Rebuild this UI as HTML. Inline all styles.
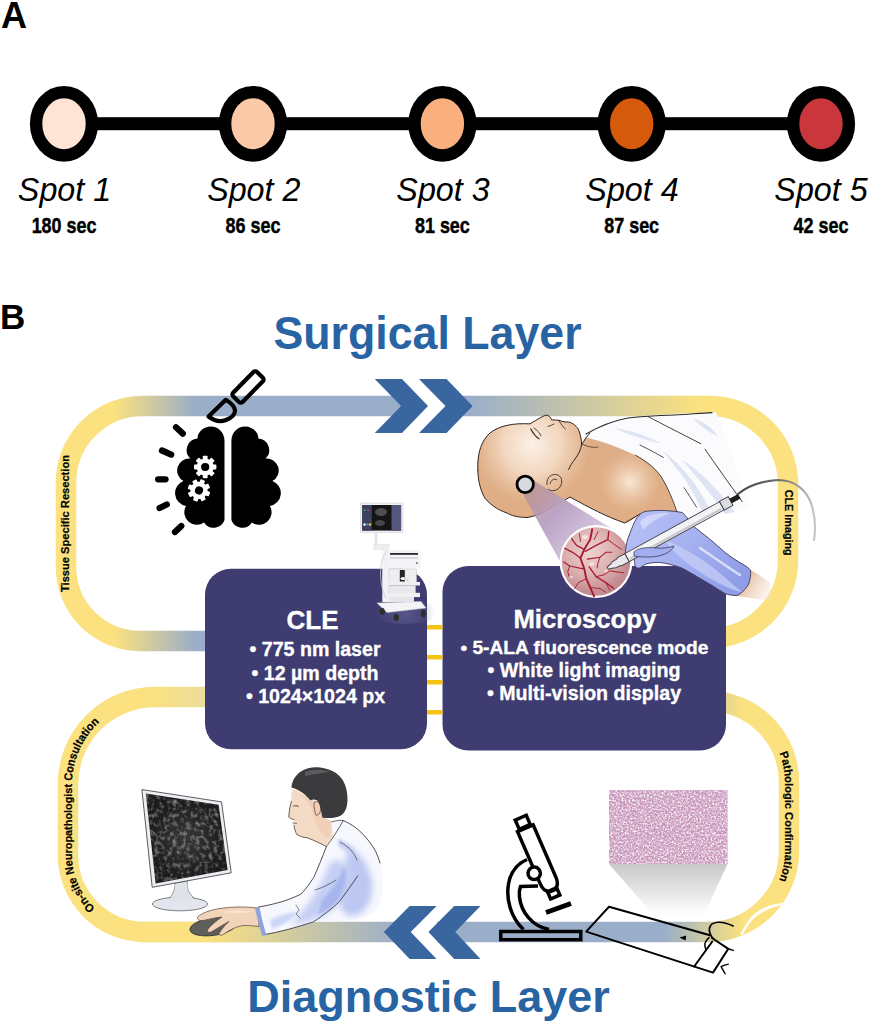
<!DOCTYPE html>
<html><head><meta charset="utf-8">
<style>
html,body{margin:0;padding:0;background:#fff;width:869px;height:1024px;overflow:hidden}
svg{display:block;font-family:"Liberation Sans",sans-serif}
</style></head><body>
<svg width="869" height="1024" viewBox="0 0 869 1024">
<defs>
  <linearGradient id="gTop" gradientUnits="userSpaceOnUse" x1="0" y1="0" x2="869" y2="0">
    <stop offset="0.132" stop-color="#fbe17f"/>
    <stop offset="0.225" stop-color="#9aaeca"/>
    <stop offset="0.54" stop-color="#9aaeca"/>
    <stop offset="0.805" stop-color="#fbe17f"/>
  </linearGradient>
  <linearGradient id="gBot" gradientUnits="userSpaceOnUse" x1="0" y1="0" x2="869" y2="0">
    <stop offset="0.235" stop-color="#fbe17f"/>
    <stop offset="0.465" stop-color="#9aaeca"/>
    <stop offset="0.763" stop-color="#9aaeca"/>
    <stop offset="0.855" stop-color="#fbe17f"/>
  </linearGradient>
  <linearGradient id="gLL" gradientUnits="userSpaceOnUse" x1="0" y1="0" x2="869" y2="0">
    <stop offset="0.17" stop-color="#fbe17f"/>
    <stop offset="0.236" stop-color="#ecdd9c"/>
  </linearGradient>
  <linearGradient id="gLR" gradientUnits="userSpaceOnUse" x1="700" y1="0" x2="760" y2="0">
    <stop offset="0.43" stop-color="#ecdd9c"/>
    <stop offset="1" stop-color="#fbe17f"/>
  </linearGradient>
</defs>

<!-- ============ PANEL A ============ -->
<text x="1" y="28" font-size="36" font-weight="bold">A</text>
<rect x="64" y="117.2" width="757" height="13" fill="#000"/>
<g stroke="#000" stroke-width="12.4">
  <ellipse cx="64" cy="123.8" rx="27.9" ry="31.7" fill="#fde4d4"/>
  <ellipse cx="253" cy="123.8" rx="27.9" ry="31.7" fill="#fbc9a8"/>
  <ellipse cx="442.4" cy="123.8" rx="27.9" ry="31.7" fill="#f9b07e"/>
  <ellipse cx="631.7" cy="123.8" rx="27.9" ry="31.7" fill="#d65a0c"/>
  <ellipse cx="821" cy="123.8" rx="27.9" ry="31.7" fill="#c9373d"/>
</g>
<g font-size="33.8" font-style="italic" text-anchor="middle">
  <text transform="translate(64.5,201.4) scale(0.955,1)">Spot 1</text>
  <text transform="translate(253.8,201.4) scale(0.955,1)">Spot 2</text>
  <text transform="translate(443,201.4) scale(0.955,1)">Spot 3</text>
  <text transform="translate(632,201.4) scale(0.955,1)">Spot 4</text>
  <text transform="translate(821,201.4) scale(0.955,1)">Spot 5</text>
</g>
<g font-size="21.6" font-weight="bold" text-anchor="middle" stroke="#000" stroke-width="0.45">
  <g transform="translate(64,232.7) scale(0.83,1)"><text x="0" y="0">180 sec</text></g>
  <g transform="translate(253,232.7) scale(0.83,1)"><text x="0" y="0">86 sec</text></g>
  <g transform="translate(442.4,232.7) scale(0.83,1)"><text x="0" y="0">81 sec</text></g>
  <g transform="translate(631.7,232.7) scale(0.83,1)"><text x="0" y="0">87 sec</text></g>
  <g transform="translate(821,232.7) scale(0.83,1)"><text x="0" y="0">42 sec</text></g>
</g>

<!-- ============ PANEL B ============ -->
<text x="0" y="328.7" font-size="35" font-weight="bold">B</text>
<text transform="translate(427.5,348.8) scale(0.972,1)" font-size="46" font-weight="bold" fill="#2864a4" text-anchor="middle">Surgical Layer</text>
<text x="428.5" y="1012.2" font-size="45" font-weight="bold" fill="#2864a4" text-anchor="middle">Diagnostic Layer</text>

<!-- bands -->
<g fill="none" stroke-width="20.5">
  <path d="M205,641 H140 A74,74 0 0 1 66,567 V482.5 A76.5,76.5 0 0 1 142.5,406 H710 A78,78 0 0 1 788,484 V560 A78,78 0 0 1 710,638" stroke="url(#gTop)"/>
  <path d="M205,697 H155 A87,87 0 0 0 68,784 V855 A77,77 0 0 0 145,932 H300" stroke="url(#gLL)"/>
  <path d="M140,932 H708 A81,81 0 0 0 789,851 V782 A81,81 0 0 0 708,701" stroke="url(#gBot)"/>
  <path d="M700,701 H726" stroke="url(#gLR)"/>
</g>
<!-- chevrons -->
<rect x="401" y="394" width="45" height="24" fill="#fff"/>
<rect x="410" y="920" width="27" height="24" fill="#fff"/>
<g fill="#3a669f">
  <polygon points="374.8,379 402,379 428,406 402,433 374.8,433 401,406"/>
  <polygon points="419,379 446.5,379 472.6,406 446.5,433 419,433 445.5,406"/>
  <polygon points="383.8,932 409.7,906 436.6,906 410.7,932 436.6,959 409.7,959"/>
  <polygon points="428.4,932 454.2,906 480.5,906 455.3,932 480.5,959 454.2,959"/>
</g>

<!-- brain icon -->
<g id="brain">
  <g id="hemi" fill="#000">
    <path d="M224.5,520 V441 C224.5,432 218,426.5 211,426.5 C204,426.5 197.5,431.5 197.5,438.5 A11.5,11.5 0 0 0 190.5,458.5 A12,12 0 0 0 183.5,481 A13,13 0 0 0 186,506 A12.5,12.5 0 0 0 204,522.5 A11.5,11.5 0 0 0 224.5,520 Z"/>
    <rect x="193" y="445" width="28" height="75"/>
  </g>
  <use href="#hemi" transform="translate(455.9,0) scale(-1,1)"/>
  <g fill="#fff">
    <g transform="translate(205.2,467)">
      <circle r="8.6"/>
      <g id="teeth"><rect x="-2.4" y="-11.2" width="4.8" height="22.4" rx="0.8"/><rect x="-2.4" y="-11.2" width="4.8" height="22.4" rx="0.8" transform="rotate(45)"/><rect x="-2.4" y="-11.2" width="4.8" height="22.4" rx="0.8" transform="rotate(90)"/><rect x="-2.4" y="-11.2" width="4.8" height="22.4" rx="0.8" transform="rotate(135)"/></g>
      <circle r="4.1" fill="#000"/>
    </g>
    <g transform="translate(199,490.4) rotate(20)">
      <circle r="8.6"/>
      <use href="#teeth"/>
      <circle r="4.1" fill="#000"/>
    </g>
  </g>
  <g stroke="#000" stroke-width="6.3" stroke-linecap="round">
    <line x1="176" y1="427.3" x2="182.8" y2="433.6"/>
    <line x1="162" y1="450.5" x2="171.2" y2="454.6"/>
    <line x1="158.2" y1="479.3" x2="165.5" y2="479.3"/>
    <line x1="159.6" y1="508" x2="166.8" y2="504.5"/>
    <line x1="175" y1="532" x2="181.3" y2="526"/>
  </g>
</g>
<!-- scalpel -->
<g fill="none" stroke="#000" stroke-width="4.2" stroke-linejoin="round">
  <g transform="translate(248,387) rotate(-45.5)"><rect x="-17" y="-6.6" width="34" height="13.2" rx="2.5"/></g>
  <path d="M225.8,399.8 L208.5,416.5 C215,421.5 221,422 226,420 C231,418 235,414.5 235,410.5 C235,406 231,403 225.8,399.8 Z"/>
</g>

<!-- boxes -->
<rect x="205" y="568.7" width="222" height="180.5" rx="26" fill="#3e3c70"/>
<rect x="442.5" y="566" width="283.5" height="184.5" rx="26" fill="#3e3c70"/>
<g fill="#f5c316">
  <rect x="427" y="625" width="15.5" height="4.5"/>
  <rect x="427" y="655" width="15.5" height="4.5"/>
  <rect x="427" y="680" width="15.5" height="4.5"/>
  <rect x="427" y="710" width="15.5" height="4.5"/>
</g>
<g fill="#fff" font-weight="bold" text-anchor="middle" stroke="#fff" stroke-width="0.35">
  <text x="312.5" y="629" font-size="26">CLE</text>
  <text x="315" y="656.3" font-size="19.6">• 775 nm laser</text>
  <text x="315" y="679.8" font-size="19.6">• 12 µm depth</text>
  <text x="315.5" y="703" font-size="19.6">• 1024×1024 px</text>
  <text x="584.8" y="628.4" font-size="25.7">Microscopy</text>
  <text x="584.4" y="654.1" font-size="19.2">• 5-ALA fluorescence mode</text>
  <text x="584" y="677.4" font-size="19.6">• White light imaging</text>
  <text x="584" y="700.1" font-size="19.6">• Multi-vision display</text>
</g>

<!-- ===== CLE cart ===== -->
<g id="cart">
  <defs>
    <radialGradient id="cartShadow" gradientUnits="userSpaceOnUse" cx="405" cy="612" r="30">
      <stop offset="0" stop-color="#6a6898" stop-opacity="0.6"/>
      <stop offset="1" stop-color="#6a6898" stop-opacity="0"/>
    </radialGradient>
  </defs>
  <ellipse cx="405" cy="612" rx="34" ry="12" fill="url(#cartShadow)"/>
  <!-- monitor -->
  <rect x="360.5" y="503" width="42.4" height="29.4" fill="#f2f2f4" stroke="#d0d0d6" stroke-width="0.6"/>
  <rect x="362.3" y="505" width="38.8" height="25.6" fill="#151515"/>
  <rect x="362.3" y="505" width="9.5" height="25.6" fill="#3d3f5e"/>
  <rect x="391.5" y="505" width="9.6" height="25.6" fill="#55577e"/>
  <circle cx="364.5" cy="524.5" r="1.2" fill="#fff"/><circle cx="367.3" cy="524.5" r="1.2" fill="#3c8dde"/><circle cx="370" cy="524.5" r="1.2" fill="#f0d020"/>
  <rect x="363.5" y="509.5" width="2.2" height="1.2" fill="#3cc080"/><rect x="367" y="509.5" width="2.2" height="1.2" fill="#d04080"/>
  <ellipse cx="381" cy="512" rx="6" ry="4" fill="#777" opacity="0.6"/>
  <ellipse cx="380" cy="523" rx="5" ry="3" fill="#777" opacity="0.5"/>
  <!-- arm -->
  <rect x="374.5" y="532" width="3" height="14" fill="#e6e6ea"/>
  <rect x="374" y="544.5" width="15" height="5" fill="#eeeef0" stroke="#d4d4da" stroke-width="0.4"/>
  <path d="M389,551 C383,560 381,580 385,600" fill="none" stroke="#bfc0c8" stroke-width="0.8"/>
  <!-- body -->
  <rect x="382.3" y="550" width="7" height="52" fill="#f2f2f4"/>
  <rect x="388.5" y="550" width="32" height="18.5" fill="#f4f4f6"/>
  <rect x="390" y="553" width="28" height="1.8" fill="#2a2a2a"/>
  <rect x="390" y="557.5" width="28" height="1" fill="#bdbdc6"/>
  <rect x="416" y="562.5" width="1.6" height="1.2" fill="#333"/>
  <rect x="389" y="569" width="27.5" height="14" fill="#eeeef1" stroke="#c6c6ce" stroke-width="0.5"/>
  <rect x="399.8" y="570" width="5" height="11.5" fill="#242424"/>
  <ellipse cx="403" cy="578.5" rx="2.6" ry="1.6" fill="#f4f4f4"/>
  <path d="M405,578 C410,580 410,590 404,594" fill="none" stroke="#9aa4b8" stroke-width="0.6"/>
  <rect x="388.5" y="582" width="31.5" height="3.5" fill="#f0f0f3"/>
  <rect x="389" y="585.5" width="26.5" height="8.5" fill="#e9e9ed" stroke="#c8c8d0" stroke-width="0.4"/>
  <rect x="389" y="592.8" width="31" height="4.3" fill="#f0f0f3"/>
  <rect x="389" y="597" width="25" height="5" fill="#e6e6ea"/>
  <path d="M377,603 L421,601.5 L426,608 L387,612.5 Z" fill="#f4f4f6" stroke="#c8c8d0" stroke-width="0.5"/>
  <ellipse cx="382.2" cy="611.5" rx="2.6" ry="3.4" fill="#2e2e2e"/>
  <ellipse cx="396.2" cy="617.5" rx="2.6" ry="3.8" fill="#2e2e2e"/>
  <ellipse cx="423.3" cy="613.5" rx="2.6" ry="3.8" fill="#2e2e2e"/>
  <path d="M387,551 C378,560 379,585 386,598" fill="none" stroke="#c8cad2" stroke-width="0.8"/>
</g>

<!-- ===== doctor ===== -->
<g id="doctor">
  <defs>
    <filter id="noiseScr" x="0" y="0" width="100%" height="100%">
      <feTurbulence type="fractalNoise" baseFrequency="0.22" numOctaves="3" seed="3"/>
      <feColorMatrix type="matrix" values="0 0 0 0 1  0 0 0 0 1  0 0 0 0 1  2.2 0 0 0 -1.0"/>
      <feComposite in2="SourceGraphic" operator="in"/>
    </filter>
    <filter id="noiseHist" x="0" y="0" width="100%" height="100%">
      <feTurbulence type="fractalNoise" baseFrequency="0.55" numOctaves="2" seed="7"/>
      <feColorMatrix type="matrix" values="0 0 0 0 1  0 0 0 0 1  0 0 0 0 1  3.2 0 0 0 -1.35"/>
      <feComposite in2="SourceGraphic" operator="in"/>
    </filter>
    <filter id="noiseHist2" x="0" y="0" width="100%" height="100%">
      <feTurbulence type="fractalNoise" baseFrequency="0.5" numOctaves="2" seed="11"/>
      <feColorMatrix type="matrix" values="0 0 0 0 0.68  0 0 0 0 0.42  0 0 0 0 0.62  0 4 0 0 -1.75"/>
      <feComposite in2="SourceGraphic" operator="in"/>
    </filter>
    <radialGradient id="coatBlue" gradientUnits="userSpaceOnUse" cx="355" cy="870" r="40">
      <stop offset="0" stop-color="#a9b8ee"/>
      <stop offset="0.6" stop-color="#c3ceF3" stop-opacity="0.8"/>
      <stop offset="1" stop-color="#e8ecfb" stop-opacity="0"/>
    </radialGradient>
  </defs>
  <!-- monitor -->
  <path d="M175,883 L187.5,881 C186.5,889 189,895 197,900 L164,902.5 C171,898 175.5,891 175,883 Z" fill="#dfe2e8" stroke="#777" stroke-width="0.7"/>
  <ellipse cx="180" cy="904" rx="27.6" ry="6.8" fill="#e3e6ee" stroke="#6f6f78" stroke-width="0.9"/>
  <path d="M166,902 C172,898 176,892 175.5,884 L187,882 C186.5,890 189,896 196,900.5" fill="#dfe2e8"/>
  <path d="M141.9,789.6 L221.5,801.9 L231.2,872.8 L152.2,887.3 Z" fill="#eceef2" stroke="#4a4a50" stroke-width="0.9"/>
  <path d="M145.8,793.4 L218.6,804.8 L227.6,870 L155.6,883.4 Z" fill="#1c1c1c"/>
  <path d="M145.8,793.4 L218.6,804.8 L227.6,870 L155.6,883.4 Z" fill="#000" filter="url(#noiseScr)" opacity="0.5"/>
  <defs><radialGradient id="scrG" gradientUnits="userSpaceOnUse" cx="186" cy="838" r="38"><stop offset="0" stop-color="#fff" stop-opacity="0.12"/><stop offset="1" stop-color="#fff" stop-opacity="0"/></radialGradient></defs>
  <path d="M145.8,793.4 L218.6,804.8 L227.6,870 L155.6,883.4 Z" fill="url(#scrG)"/>
  <!-- coat body -->
  <defs>
    <filter id="blur3" x="-30%" y="-30%" width="160%" height="160%"><feGaussianBlur stdDeviation="3"/></filter>
    <filter id="blur15" x="-30%" y="-30%" width="160%" height="160%"><feGaussianBlur stdDeviation="1.5"/></filter>
  </defs>
  <path d="M331,822 C336,820.5 340,820 343,820.5 C352,824 360,830 368,840 C374,847 378,855 380,863 C383,875 384,890 380,903 C376,912 368,917 355,919.5 L339,921 C330,921.5 322,921.8 313.6,921.8 C298,927 280,932 264,934.7 C261,925 259,916 258.4,907 C270,905 285,902 300.8,894.2 C306,889 310,883 313.6,877.6 C318,868 322,858 326.5,846.3 C328,838 329,830 331,822 Z" fill="#f7f8fe"/>
  <g filter="url(#blur3)" opacity="0.85">
    <path d="M345,845 C358,850 368,862 372,880 C374,895 370,908 358,915 C350,918 342,915 340,905 C345,890 350,870 345,845 Z" fill="#b3c0f0"/>
    <path d="M330,862 C340,858 350,862 352,875 C350,890 340,905 325,915 C315,920 300,925 290,925 C300,915 318,895 330,862 Z" fill="#bcc8f2"/>
  </g>
  <g filter="url(#blur15)" opacity="0.9">
    <path d="M322,900 C332,890 340,878 344,866 C348,875 345,890 338,900 C332,908 325,912 318,915 Z" fill="#a4b3ec"/>
    <path d="M338,838 C345,842 352,846 356,852 C350,852 343,850 338,846 Z" fill="#c5cff5"/>
    <path d="M270,920 C280,915 290,912 298,912 C292,920 282,926 272,929 Z" fill="#c9d3f6"/>
  </g>
  <g fill="none" stroke="#3c3c44" stroke-width="0.9" stroke-linecap="round">
    <path d="M343,820.5 C352,824 360,830 368,840 C374,847 378,855 380,863"/>
    <path d="M326.5,846.3 C322,858 318,868 313.6,877.6 C310,883 306,889 300.8,894.2 C285,902 270,905 258.4,907 C259,916 261,925 264,934.7 C280,932 298,927 313.6,921.8 C322,916 332,909 339.4,901.6 C346,893 352,884 357.8,875.8"/>
    <path d="M331,822 C336,820.5 340,820 343,820.5" stroke-width="0.8"/>
    <path d="M326.5,846.3 C333,838 338,830 343,821" stroke-width="0.8"/>
    <path d="M340,842 C348,846 354,852 357,860" stroke-width="0.7"/>
    <path d="M315,890 C322,888 330,884 336,880" stroke-width="0.7"/>
    <path d="M296,905 L299,910 L296,914 L300,918" stroke-width="0.6"/>
  </g>
  <!-- hand + mouse -->
  <ellipse cx="213.2" cy="926.6" rx="23.5" ry="8.8" transform="rotate(-8 213.2 926.6)" fill="#5e5e5a" stroke="#2e2e2e" stroke-width="0.8"/>
  <path d="M258,908 C245,906.5 232,906.5 220,908.5 C210,910 202,913 197.5,917 C197,919.5 199,921 203,920.5 C210,919 216,917.5 222,917 C216,921 210,926 207.5,930 C207,932.5 209,933 212,931.5 C218,928 224,924 229,921.5 C225,925 221,930 219,933.5 C219,935.5 221.5,936 224,934 C230,930 237,926 244,925.5 C250,925.5 254,926 259,926.5 Z" fill="#f2d4ba" stroke="#5a4038" stroke-width="0.7"/>
  <path d="M223,912 C232,910 244,910 254,912 C245,913 233,913.5 223,912 Z" fill="#fbe8da" opacity="0.8"/>
  <path d="M255,908 L259.5,907.3 C261.5,917 263.5,926 266.5,935.3 L262,935.8 C259,926 257,917 255,908 Z" fill="#8ea2de"/>
  <!-- face -->
  <path d="M292.3,789 C291,793 291,797 291.4,801.4 C290,806 289,812 288.8,817 C290,818.5 292,819 294,819.6 C293.5,821.5 293.5,823.5 294,825.6 C294.5,829 295.5,832 296.6,834.2 C300,836.5 303,837.5 307,837.7 C311,839 315,841 319,842.9 C322,844 324,845.5 326,846.3 L333,836 L331.1,820.4 C328,819.5 325,818.5 322.5,817.8 C320,812 319.5,806 318.2,803 C316,800 313,800 310.4,801.4 C306,796 300,791 292.3,789 Z" fill="#f4dbc6"/>
  <path d="M300,795 C308,800 312,808 314,818 C316,828 322,836 330,838 L331,822 C325,818 320,812 318,803 C312,798 306,795 300,795 Z" fill="#edc8ad" opacity="0.6"/>
  <g fill="none" stroke="#4a3a35" stroke-width="0.8" stroke-linecap="round">
    <path d="M291.4,801.4 C290,806 289,812 288.8,817 C290,818.5 292,819 294,819.6"/>
    <path d="M294,825.6 C294.5,829 295.5,832 296.6,834.2 C300,836.5 303,837.5 307,837.7 C311,839 315,841 319,842.9 C322,844 324,845.5 326,846.3"/>
    <path d="M293,823 L296.5,823.5" stroke-width="0.7"/>
    <path d="M293.5,806 C295,805.5 297,805.5 298.5,806.5" stroke-width="0.9"/>
  </g>
  <path d="M313.9,803 C316,800 320,802 320.8,807 C321,812 319,815.5 316,815.2 C315,813 314,809 313.9,803 Z" fill="#efcdb4" stroke="#4a3a35" stroke-width="0.7"/>
  <!-- hair -->
  <path d="M291.4,787.6 C292,781 295,776 300,772 C306,768 312,767 318,767.3 C328,768 337,772 342,779 C346,785 347.5,792 347.5,799 C347.5,806 346,812 341,815.5 C336,818 329,818.5 322.5,817.8 C321,812 320.5,806 318.5,802 C316,799 313,799 310.4,800.5 C306,795 300,790 291.4,787.6 Z" fill="#3b3b3d"/>
  <path d="M305,772 C312,769 322,769 330,772 C322,773 313,774 305,776 Z" fill="#6a6a6e" opacity="0.7"/>
</g>

<!-- ===== microscope ===== -->
<g id="microscope" fill="none" stroke="#000" stroke-width="3.5" stroke-linejoin="miter">
  <rect x="500.8" y="931.5" width="80" height="8.2"/>
  <path d="M523.5,929.5 C510,917 506,898 508.5,884 C510.5,872 517,864 527,859.5"/>
  <path d="M549,929.5 C532,926 521,912 519.5,897 C519,893 519.5,889 520.5,886.5 L538,886"/>
  <g transform="translate(538.5,858.5) rotate(-23.5)">
    <path d="M-8.5,-33 H8.5 V24 C8.5,30 6,33 4,34 H-4 C-6,33 -8.5,30 -8.5,24 Z"/>
    <rect x="-6" y="-44.5" width="12" height="10"/>
    <rect x="-5" y="35" width="10" height="7"/>
  </g>
  <circle cx="534.2" cy="873.3" r="6.2" fill="#fff"/>
  <line x1="546" y1="912.5" x2="571" y2="903.5" stroke-width="5"/>
</g>
<g fill="#fff">
  <circle cx="534.2" cy="873.3" r="4"/>
</g>

<!-- ===== histology + slide ===== -->
<defs>
  <linearGradient id="trapG" gradientUnits="userSpaceOnUse" x1="0" y1="864" x2="0" y2="915">
    <stop offset="0" stop-color="#c8c8c8"/>
    <stop offset="1" stop-color="#ffffff"/>
  </linearGradient>
</defs>
<path d="M609,864 L727.5,864 L704.3,914 L652.5,914 Z" fill="url(#trapG)"/>
<rect x="609" y="790" width="118.5" height="74" fill="#c795b9"/>
<rect x="609" y="790" width="118.5" height="74" fill="#000" filter="url(#noiseHist2)" opacity="0.8"/>
<rect x="609" y="790" width="118.5" height="74" fill="#000" filter="url(#noiseHist)" opacity="0.85"/>
<g fill="none" stroke="#000" stroke-width="2" stroke-linejoin="round" stroke-linecap="round">
  <path d="M710,935.2 L609,906.7 L586.2,931.6 L713,972.6 L728.3,948.8 L712,938"/>
  <path d="M728.3,948.8 L733.2,950.4" stroke-width="1.5"/>
  <path d="M694.1,966.6 L712.2,941.6" stroke-width="1.8"/>
  <path d="M733.2,925.9 C728,923.5 723,922 718.7,922.2 C714,922.5 711.5,923.5 710.6,925.5 C709,928 709,930.5 709.8,932.7 C710.5,935.5 712,937.5 713.8,939.2" stroke-width="1.6"/>
  <path d="M709,937.6 C707,939.5 705.5,941 705,943.2 C704.5,945.5 705,947.5 705.8,949.6" stroke-width="1.5"/>
  <path d="M728.3,964.1 C725.5,964.8 723,965.5 721.1,966.6 C722.5,969 724,971.5 725.1,973.8" stroke-width="1.4"/>
</g>
<path d="M679.4,937.5 L686.3,935.5 L685.5,940.6 Z" fill="#000"/>
<g fill="none" stroke="#fff" stroke-width="2.4" stroke-linecap="round">
  <path d="M741.8,933.7 C746,926 750,919.5 754.4,915.3 C762,909 770,906 777.5,905"/>
  <path d="M749.8,921 C757,913 768,907 782,903.8" stroke-width="2"/>
</g>

<!-- ===== patient illustration ===== -->
<g id="patient">
  <!-- sheet -->
  <path d="M583,437 C592,429 603,424 615,421 C635,416 655,414.5 680,413.5 C695,413 705,412.5 716,412 C722,428 730,450 738,472 C742,484 746,496 750,506 L705,520 L677,512 C673,498 668,486 662,478 C655,468 646,461 635.6,455.3 C618,447 600,441 583,437 Z" fill="#fbfbfe"/>
  <g fill="#dde3f2" opacity="0.95">
    <path d="M662,450 C675,460 690,475 700,492 C706,502 710,510 712,516 L704,516 C698,500 688,482 676,468 C671,461 666,455 662,450 Z"/>
    <path d="M682,460 C700,470 718,490 735,512 L725,514 C712,495 698,478 682,460 Z"/>
    <path d="M693,418 C705,422 712,428 718,436 C708,432 700,426 693,418 Z"/>
    <path d="M614,428 C630,430 648,436 662,444 C645,440 630,435 614,428 Z"/>
  </g>
  <g fill="none" stroke="#2f2a2a" stroke-linecap="round">
    <path d="M586,434 C598,427 612,421 628,418 C645,416 660,415.5 675,415 C688,414.5 700,413 712,412.6" stroke-width="1.1"/>
    <path d="M648.3,416.7 C662,424 680,433 700.8,443.7" stroke-width="0.9"/>
    <path d="M705,449.2 C716,465 730,485 742.2,501.7" stroke-width="0.9"/>
    <path d="M640,445 C648,449 656,453 663.5,457.5" stroke-width="0.8"/>
    <path d="M684.2,487.8 C688,494 693,501 696.6,507.2" stroke-width="0.8"/>
  </g>
  <!-- skin body -->
  <defs>
    <radialGradient id="skinG" gradientUnits="userSpaceOnUse" cx="540" cy="445" r="75">
      <stop offset="0" stop-color="#fbeee2"/>
      <stop offset="0.45" stop-color="#f3d6bd"/>
      <stop offset="1" stop-color="#d9a47a"/>
    </radialGradient>
    <radialGradient id="chestG" gradientUnits="userSpaceOnUse" cx="640" cy="490" r="45">
      <stop offset="0" stop-color="#f6dcc4"/>
      <stop offset="1" stop-color="#dcaa80"/>
    </radialGradient>
    <linearGradient id="coneG" gradientUnits="userSpaceOnUse" x1="528" y1="487" x2="590" y2="548">
      <stop offset="0" stop-color="#a98592" stop-opacity="0.6"/>
      <stop offset="0.45" stop-color="#bca4c6"/>
      <stop offset="1" stop-color="#d8cbe2"/>
    </linearGradient>
    <radialGradient id="magG" gradientUnits="userSpaceOnUse" cx="590" cy="552" r="40">
      <stop offset="0" stop-color="#eed3d2"/>
      <stop offset="0.6" stop-color="#dcb0b0"/>
      <stop offset="1" stop-color="#c48c92"/>
    </radialGradient>
    <linearGradient id="gloveG" gradientUnits="userSpaceOnUse" x1="640" y1="515" x2="730" y2="590">
      <stop offset="0" stop-color="#b5bef5"/>
      <stop offset="0.5" stop-color="#a4b0f0"/>
      <stop offset="1" stop-color="#8f9de8"/>
    </linearGradient>
  </defs>
  <path d="M477.8,470.6 C477,452 482,440 490,433 C500,425 515,423 530,423.9 C538,419 543,416 546.1,415.1 C549,415 551,418 551.7,419.9 C554,420 557,420 559,420.3 C562,421.5 564,422 567,421.9 C571,422 576,425 578.3,429.2 C580.5,434 581.5,440 581.6,444.5 L585,437.5 C598,440 616,446 635.6,455.3 C648,462 657,470 662,478 C668,488 673,500 677,512 L640,514 C632,520 628,523 624.7,523 C605,516 585,505 570,497 C563,500 558,504 552.9,506.8 C545,512 535,516.5 527,517.5 C518,517.5 511,515.5 507.3,513.2 C502,511 499,510 496.3,508.1 C491,504.5 487.5,501.5 485.3,498.6 C481,492 478.2,482 477.8,470.6 Z" fill="#dfae86"/>
  <defs>
    <radialGradient id="hiFace" gradientUnits="userSpaceOnUse" cx="532" cy="445" r="58">
      <stop offset="0" stop-color="#fcf1e8"/>
      <stop offset="0.5" stop-color="#f4dcc6" stop-opacity="0.9"/>
      <stop offset="1" stop-color="#f0d2b8" stop-opacity="0"/>
    </radialGradient>
    <radialGradient id="hiChest" gradientUnits="userSpaceOnUse" cx="630" cy="482" r="30">
      <stop offset="0" stop-color="#f9e6d6"/>
      <stop offset="1" stop-color="#f0d0b4" stop-opacity="0"/>
    </radialGradient>
  </defs>
  <path d="M477.8,470.6 C477,452 482,440 490,433 C500,425 515,423 530,423.9 C538,419 543,416 546.1,415.1 C549,415 551,418 551.7,419.9 C554,420 557,420 559,420.3 C562,421.5 564,422 567,421.9 C571,422 576,425 578.3,429.2 C580.5,434 581.5,440 581.6,444.5 L585,437.5 C598,440 616,446 635.6,455.3 C648,462 657,470 662,478 C668,488 673,500 677,512 L640,514 C632,520 628,523 624.7,523 C605,516 585,505 570,497 C563,500 558,504 552.9,506.8 C545,512 535,516.5 527,517.5 C518,517.5 511,515.5 507.3,513.2 C502,511 499,510 496.3,508.1 C491,504.5 487.5,501.5 485.3,498.6 C481,492 478.2,482 477.8,470.6 Z" fill="url(#hiFace)"/>
  <circle cx="630" cy="482" r="30" fill="url(#hiChest)"/>
  <g fill="none" stroke="#2e2520" stroke-width="1" stroke-linecap="round">
    <path d="M477.8,470.6 C477,452 482,440 490,433 C500,425 515,423 530,423.9 C538,419 543,416 546.1,415.1 C549,415 551,418 551.7,419.9 C554,420 557,420 559,420.3 C562,421.5 564,422 567,421.9 C571,422 576,425 578.3,429.2 C580.5,434 581.5,440 581.6,444.5 C581,450 578,455 575,459 C572,463 570,466 568.7,469.4"/>
    <path d="M477.8,470.6 C478.2,482 481,492 485.3,498.6 C487.5,501.5 491,504.5 496.3,508.1 C499,510 502,511 507.3,513.2 C511,515.5 518,517.5 527,517.5 C535,516.5 545,512 552.9,506.8 C560,503 565,500 570,497 C590,508 605,516 624.7,523 L640,514"/>
    <path d="M581.6,444.5 C585,440 586,437 590,433"/>
    <path d="M582,444 C588,447 594,448 598,447" stroke-width="0.7"/>
    <path d="M635.6,455.3 C648,462 657,470 662,478 C668,488 673,500 677,512" stroke-width="0.8"/>
    <path d="M530.8,429 C533,433 536,437 539,438.8" stroke-width="1.2"/>
    <path d="M534,428 C537,430 540,433 541,436" stroke-width="0.8"/>
    <path d="M559,420.7 C561,424 563,427 565.4,429.2" stroke-width="0.8"/>
    <path d="M548,426.5 C550,426 552,425 554,424" stroke-width="0.8"/>
  </g>
  <!-- ear -->
  <g fill="none" stroke="#3b2a22" stroke-width="0.9">
    <path d="M547,485 C546,477 552,473 558,475 C562,477 563,482 560,487 C557,491 551,492 548,489"/>
    <path d="M550,484 C551,480 554,478 557,480"/>
  </g>
  <!-- cone -->
  <path d="M521.5,491.5 L532,479.5 L614,530 L562,565 Z" fill="url(#coneG)"/>
  <!-- marker -->
  <circle cx="525.2" cy="484.4" r="8.2" fill="#d9d9e0" stroke="#000" stroke-width="2.8"/>
  <!-- magnified circle -->
  <circle cx="596" cy="561.5" r="36.5" fill="#fff"/>
  <circle cx="596" cy="561.5" r="34.3" fill="url(#magG)"/>
  <g fill="none" stroke="#a81c30" stroke-linecap="round" stroke-linejoin="round">
    <path d="M592.2,529.3 L590.2,539.6 L584.3,549.3 L580.4,558.1 L584.3,568.9 L586.3,578.7 L590.2,587.5 L594.1,596.3" stroke-width="1.9"/>
    <path d="M571.6,538.6 L576.5,545.4 L584.3,549.3" stroke-width="1.3"/>
    <path d="M564.8,548.4 L572.6,552.3 L580.4,558.1" stroke-width="1.3"/>
    <path d="M585.3,551.3 L596.1,545.4 L607.8,539.6 L608.8,531.7" stroke-width="1.4"/>
    <path d="M607.8,539.6 L615.6,545.4 L621.5,549.3" stroke-width="1.0"/>
    <path d="M587.3,559.1 L600.0,557.2 L605.9,552.3 L611.7,552.3" stroke-width="1.1"/>
    <path d="M600.0,557.2 L598.0,563.0 L597.1,567.9" stroke-width="1.0"/>
    <path d="M583.4,568.9 L569.7,566.0 L563.8,562.1" stroke-width="1.2"/>
    <path d="M569.7,566.0 L567.7,571.8 L569.7,577.7" stroke-width="1.0"/>
    <path d="M589.2,566.9 L596.1,576.7 L605.9,582.6 L613.7,588.5" stroke-width="1.4"/>
    <path d="M596.1,576.7 L603.9,574.8 L609.8,570.9 L623.5,572.8" stroke-width="1.0"/>
    <path d="M586.3,578.7 L578.5,582.6 L574.6,588.5" stroke-width="1.0"/>
    <path d="M590.2,587.5 L600.0,588.5 L605.9,592.4" stroke-width="0.9"/>
    <path d="M579.5,533.7 L580.4,541.5" stroke-width="0.9"/>
    <path d="M598.0,531.7 L594.1,539.6" stroke-width="0.9"/>
    <path d="M613.7,563.0 L623.5,561.1 L627.4,555.2" stroke-width="0.9"/>
    <path d="M605.9,582.6 L609.8,590.4" stroke-width="0.9"/>
  </g>
  <g fill="#fff" opacity="0.55"><ellipse cx="592" cy="564" rx="2.5" ry="1.8"/><ellipse cx="606" cy="571" rx="2" ry="1.3"/><ellipse cx="571" cy="577" rx="2" ry="1.3"/><ellipse cx="585" cy="537" rx="3" ry="2"/></g>
  <!-- arm skin -->
  <defs>
    <linearGradient id="armG" gradientUnits="userSpaceOnUse" x1="745" y1="580" x2="772" y2="595">
      <stop offset="0" stop-color="#e6bfa0"/>
      <stop offset="1" stop-color="#f6e6da" stop-opacity="0.3"/>
    </linearGradient>
  </defs>
  <path d="M742,566 C752,570 762,576 770,583 L772,601 C762,600 752,598 737,596 Z" fill="url(#armG)"/>
  <!-- glove -->
  <path d="M625.4,552.6 C626,545 627,540 629.3,535 C632,528 634,522 637.2,517.4 C640,514 642,512.5 645,511.5 C652,510.5 658,510.3 664.6,510.5 C671,511 677,511.5 682.2,512.5 C684,514 685,515 686,516.4 C688,519 690,522 692,525.2 C698,530 704,534.5 709.5,538.9 C715,543.5 720,548 725.2,552.6 C731,557 737,561 742.8,564.3 C746,566 748.5,568 750.6,570.2 C751,575 750,580 748.7,583.9 C746,589 742,593 737,595.6 C733,595.5 729,594.8 725.2,593.7 C720,590.5 715,587.5 709.5,583.9 C701,579 692,573.5 682.2,568.2 C674,565 666,563 658.7,562.4 C653,562.5 649,563 645,564.3 C643,566 641,567.5 639.1,568.2 C637,568 636,567.5 635.2,566.3 C634.5,563 634.3,560 634.2,556.5 C632,556 628,555 625.4,552.6 Z" fill="url(#gloveG)" stroke="#3d3a58" stroke-width="0.9"/>
  <path d="M665,540 C685,548 705,560 722,575 C730,582 738,588 742,592 C730,590 715,582 700,572 C688,564 676,556 665,540 Z" fill="#c9d0f8" opacity="0.7"/>
  <path d="M640,522 C645,515 655,513 670,513 C660,517 650,522 643,530 Z" fill="#d3d9fb" opacity="0.9"/>
  <path d="M700,548 C712,556 726,566 740,575" fill="none" stroke="#e9ecfd" stroke-width="2.5" opacity="0.8" stroke-linecap="round"/>
  <!-- probe -->
  <g transform="translate(607.8,568.2) rotate(-28.7)">
    <path d="M0,-1.2 L5,-2.5 L7,-3.5 L12,-3.8 L14,-4.6 L22,-4.6 L22,4.6 L14,4.6 L12,3.8 L7,3.5 L5,2.5 L0,1.2 Z" fill="#e8e8ec" stroke="#3c3c40" stroke-width="0.9"/>
    <rect x="22" y="-4.6" width="108" height="9.2" fill="#f4f4f6" stroke="#3c3c40" stroke-width="0.9"/>
    <rect x="24" y="1.4" width="104" height="2.3" fill="#c8c8d0"/>
    <rect x="130" y="-5" width="10" height="10" fill="#dcdce0" stroke="#3c3c40" stroke-width="0.9"/>
    <rect x="140" y="-2.6" width="10" height="5.2" fill="#1e1e1e"/>
  </g>
  <!-- fingers over probe -->
  <path d="M634,552 C638,548 646,547 656,548 C664,548.5 670,547.5 674,546 C672,551 665,555 656,556.5 C648,557.5 640,557 634,556 Z" fill="#a3aef0" stroke="#3d3a58" stroke-width="0.8"/>
  <!-- cable -->
  <defs><linearGradient id="cableG" gradientUnits="userSpaceOnUse" x1="738" y1="0" x2="815" y2="0"><stop offset="0" stop-color="#4a4a4a"/><stop offset="0.55" stop-color="#707070"/><stop offset="1" stop-color="#c8c8c8"/></linearGradient></defs>
  <path d="M738,494 C748,486 762,481 778,480 C795,480 806,490 811,503 C815,515 816,528 814,540" fill="none" stroke="url(#cableG)" stroke-width="2.2" stroke-linecap="round"/>
  
</g>

<!-- band labels -->
<path id="tpOn" d="M145,928 A73,73 0 0 1 72,855 V784 A83,83 0 0 1 155,701" fill="none"/>
<path id="tpPath" d="M708,705 A77,77 0 0 1 785,782 V851 A77,77 0 0 1 708,928" fill="none"/>
<g font-size="11.5" font-weight="bold" stroke="#000" stroke-width="0.2">
  <text transform="translate(69.2,523.5) rotate(-90)" text-anchor="middle" textLength="137" lengthAdjust="spacingAndGlyphs">Tissue Specific Resection</text>
  <text transform="translate(785.3,522.7) rotate(90)" text-anchor="middle" textLength="66" lengthAdjust="spacingAndGlyphs">CLE Imaging</text>
  <text><textPath href="#tpPath" startOffset="91" textLength="129" lengthAdjust="spacingAndGlyphs">Pathologic Confirmation</textPath></text>
  <text><textPath href="#tpOn" startOffset="55" textLength="200" lengthAdjust="spacingAndGlyphs">On-site Neuropathologist Consultation</textPath></text>
</g>

</svg>
</body></html>
